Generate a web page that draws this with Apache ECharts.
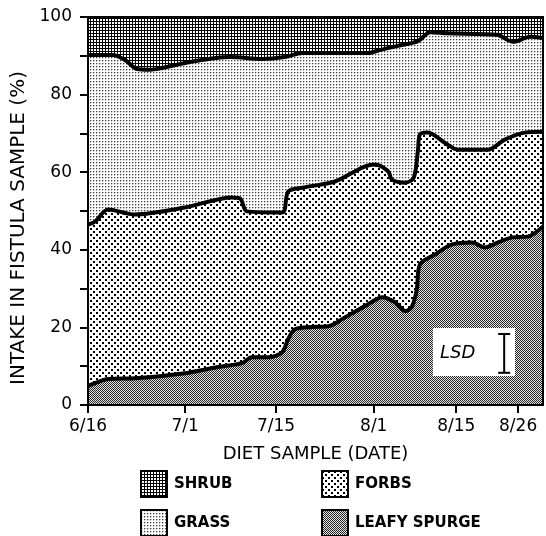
<!DOCTYPE html>
<html>
<head>
<meta charset="utf-8">
<script src="https://cdn.jsdelivr.net/npm/echarts@6/dist/echarts.min.js"></script>
<style>
html,body{margin:0;padding:0;background:#fff;}
#chart{width:546px;height:536px;}
</style>
</head>
<body>
<div id="chart"></div>
<script>
// x positions are in "days after 6/16" as placed on the drawn (hand-scaled) axis
var tickPositions = [0, 16.0, 31.0, 47.1, 60.7, 70.9];
var tickLabels = ['6/16', '7/1', '7/15', '8/1', '8/15', '8/26'];

// cumulative upper boundaries (%) of each layer
var shrubTop = [[0, 100], [75, 100]];
var grassTop = [[0,90.2],[4.1,90.2],[6.1,88.9],[8.1,86.6],[10.2,86.4],[12.4,86.9],[16.8,88.4],[23.4,89.7],[28.7,89.2],[32.5,89.7],[35.3,90.7],[46.2,90.7],[48.1,91.5],[50.9,92.5],[54.4,93.8],[56.4,96.1],[59.2,95.8],[67.4,95.4],[70.1,93.6],[72.9,94.9],[75,94.6]];
var forbsTop = [[0,46.5],[1.2,47.3],[3.3,50.4],[7.7,49.1],[16.0,50.9],[23.7,53.5],[25.1,53.2],[26.2,49.9],[32.0,49.6],[33.0,55.0],[35.3,56.0],[40.7,57.6],[45.2,61.2],[47.3,62.0],[49.5,60.2],[50.1,58.1],[52.3,57.3],[53.7,58.6],[54.4,65.8],[54.7,69.7],[56.0,70.2],[58.8,67.6],[61.0,65.8],[65.9,65.8],[68.7,68.4],[72.0,70.2],[75,70.4]];
var spurgeTop = [[0,4.9],[1.6,5.9],[3.3,6.7],[7.7,6.9],[16.0,8.2],[21.4,9.8],[25.4,10.8],[27.0,12.3],[29.7,12.3],[32.0,13.6],[33.0,17.0],[34.1,19.5],[36.9,20.1],[39.6,20.3],[42.4,22.6],[46.2,26.0],[48.5,27.8],[50.6,26.5],[52.3,24.2],[53.4,25.4],[54.2,29.8],[54.7,36.2],[57.2,38.8],[60.0,41.4],[63.3,41.9],[65.4,40.6],[67.6,41.9],[69.9,43.2],[72.5,43.4],[75,46.0]];
var seriesNames = ['SHRUB', 'GRASS', 'FORBS', 'LEAFY SPURGE'];
var lsdValue = 10;

function makePattern(size, draw) {
  var c = document.createElement('canvas');
  c.width = size; c.height = size;
  var ctx = c.getContext('2d');
  ctx.fillStyle = '#fff';
  ctx.fillRect(0, 0, size, size);
  draw(ctx);
  return { image: c, repeat: 'repeat' };
}
var patShrub = makePattern(3, function (ctx) {
  ctx.fillStyle = '#000';
  ctx.fillRect(0, 0, 3, 1);
  ctx.fillRect(0, 0, 1, 3);
});
var patGrass = makePattern(3, function (ctx) {
  ctx.fillStyle = '#444'; ctx.fillRect(0, 0, 1, 1);
  ctx.fillStyle = '#bbb'; ctx.fillRect(1, 0, 1, 1); ctx.fillRect(0, 1, 1, 1);
});
var patForbs = makePattern(6, function (ctx) {
  ctx.fillStyle = '#000';
  ctx.fillRect(0, 0, 2, 2);
  ctx.fillRect(3, 3, 2, 2);
});
var patSpurge = makePattern(2, function (ctx) {
  ctx.fillStyle = '#e0e0e0'; ctx.fillRect(0, 0, 2, 2);
  ctx.fillStyle = '#2a2a2a'; ctx.fillRect(0, 0, 1, 1); ctx.fillRect(1, 1, 1, 1);
});
var patterns = [patShrub, patGrass, patForbs, patSpurge];
var datasets = [shrubTop, grassTop, forbsTop, spurgeTop];

var FONT = 'DejaVu Sans';
var chart = echarts.init(document.getElementById('chart'), null, { renderer: 'canvas' });

var series = datasets.map(function (d, i) {
  return {
    name: seriesNames[i],
    type: 'line',
    data: d,
    smooth: 0.3,
    showSymbol: false,
    symbol: 'none',
    z: 2 + i,
    lineStyle: { color: '#000', width: i === 0 ? 0 : 4 },
    itemStyle: { color: patterns[i], borderColor: '#000', borderWidth: 2 },
    areaStyle: { color: patterns[i], opacity: 1, origin: 'start' },
    silent: true,
    animation: false
  };
});

// one legend block per entry, arranged in a 2 x 2 layout
var legendSlots = [[140, 470], [140, 509], [321, 470], [321, 509]];
var legendOrder = [0, 1, 2, 3];
var legends = legendOrder.map(function (idx, k) {
  return {
    orient: 'vertical', left: legendSlots[k][0], top: legendSlots[k][1], padding: 0,
    itemWidth: 26, itemHeight: 26,
    selectedMode: false,
    textStyle: { fontFamily: FONT, fontSize: 15, fontWeight: 'bold', color: '#000', padding: [0, 0, 0, 2] },
    data: [{ name: seriesNames[idx], icon: 'rect',
             itemStyle: { color: patterns[idx], borderColor: '#000', borderWidth: 2 } }]
  };
});

var option = {
  animation: false,
  backgroundColor: '#fff',
  grid: { left: 88, right: 3, top: 17, bottom: 131 },
  xAxis: {
    type: 'value', min: 0, max: 75,
    name: 'DIET SAMPLE (DATE)', nameLocation: 'middle', nameGap: 40,
    nameTextStyle: { fontFamily: FONT, fontSize: 18, color: '#000' },
    axisLine: { lineStyle: { color: '#000', width: 2 } },
    axisTick: { show: true, length: 8, lineStyle: { color: '#000', width: 2 }, customValues: tickPositions },
    axisLabel: {
      customValues: tickPositions, margin: 13,
      fontFamily: FONT, fontSize: 17, color: '#000',
      formatter: function (v) {
        for (var k = 0; k < tickPositions.length; k++) if (Math.abs(tickPositions[k] - v) < 1e-6) return tickLabels[k];
        return '';
      }
    },
    splitLine: { show: false }
  },
  yAxis: {
    type: 'value', min: 0, max: 100, interval: 10,
    name: 'INTAKE IN FISTULA SAMPLE (%)', nameLocation: 'middle', nameGap: 52, nameRotate: 90,
    nameTextStyle: { fontFamily: FONT, fontSize: 20, color: '#000', padding: [0, 34, 0, 0] },
    axisLine: { lineStyle: { color: '#000', width: 2 } },
    axisTick: { show: true, length: 8, lineStyle: { color: '#000', width: 2 } },
    axisLabel: {
      margin: 16, fontFamily: FONT, fontSize: 17, color: '#000',
      formatter: function (v) { return v % 20 === 0 ? String(v) : ''; }
    },
    splitLine: { show: false }
  },
  legend: legends,
  series: series
};
chart.setOption(option);

// plot frame and LSD annotation
var p0 = chart.convertToPixel({ gridIndex: 0 }, [0, 0]);
var p1 = chart.convertToPixel({ gridIndex: 0 }, [75, 100]);
var lsdTop = chart.convertToPixel({ gridIndex: 0 }, [68.6, 18.3]);
var lsdBot = chart.convertToPixel({ gridIndex: 0 }, [68.6, 18.3 - lsdValue]);
chart.setOption({
  graphic: [
    { type: 'rect', z: 100, silent: true,
      shape: { x: p0[0], y: p1[1], width: p1[0] - p0[0], height: p0[1] - p1[1] },
      style: { fill: null, stroke: '#000', lineWidth: 2 } },
    { type: 'rect', z: 100, silent: true,
      shape: { x: 433, y: 328, width: 82, height: 48 },
      style: { fill: '#fff' } },
    { type: 'text', z: 101, silent: true, x: 440, y: 353,
      style: { text: 'LSD', fontFamily: FONT, fontSize: 18, fontStyle: 'italic', fill: '#000', verticalAlign: 'middle', align: 'left' } },
    { type: 'line', z: 101, silent: true,
      shape: { x1: lsdTop[0], y1: lsdTop[1], x2: lsdBot[0], y2: lsdBot[1] },
      style: { stroke: '#000', lineWidth: 2 } },
    { type: 'line', z: 101, silent: true,
      shape: { x1: lsdTop[0] - 6, y1: lsdTop[1], x2: lsdTop[0] + 6, y2: lsdTop[1] },
      style: { stroke: '#000', lineWidth: 2 } },
    { type: 'line', z: 101, silent: true,
      shape: { x1: lsdBot[0] - 6, y1: lsdBot[1], x2: lsdBot[0] + 6, y2: lsdBot[1] },
      style: { stroke: '#000', lineWidth: 2 } }
  ]
});
</script>
</body>
</html>
